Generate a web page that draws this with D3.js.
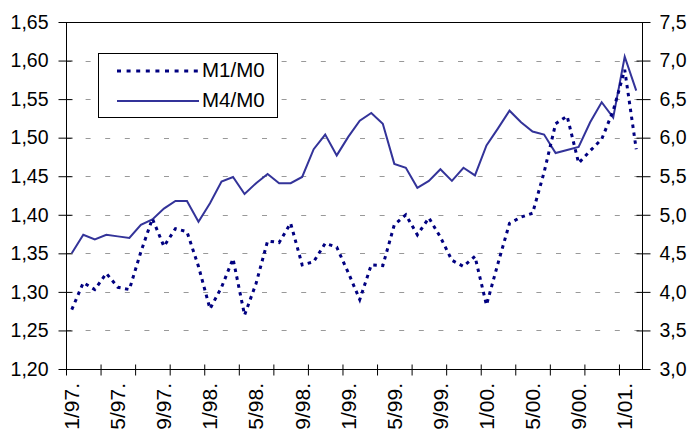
<!DOCTYPE html>
<html>
<head>
<meta charset="utf-8">
<script src="https://cdn.jsdelivr.net/npm/d3@7/dist/d3.min.js"></script>
<style>
html,body{margin:0;padding:0;background:#fff;}
svg{display:block;}
text{font-family:"Liberation Sans",Arial,sans-serif;fill:#000;}
</style>
</head>
<body>
<svg id="chart" width="691" height="430"></svg>
<script>
// ---- data ----
const months = [
  "1/97.","2/97.","3/97.","4/97.","5/97.","6/97.","7/97.","8/97.","9/97.","10/97.","11/97.","12/97.",
  "1/98.","2/98.","3/98.","4/98.","5/98.","6/98.","7/98.","8/98.","9/98.","10/98.","11/98.","12/98.",
  "1/99.","2/99.","3/99.","4/99.","5/99.","6/99.","7/99.","8/99.","9/99.","10/99.","11/99.","12/99.",
  "1/00.","2/00.","3/00.","4/00.","5/00.","6/00.","7/00.","8/00.","9/00.","10/00.","11/00.","12/00.",
  "1/01.","2/01."
];
const m1m0 = [
  1.277,1.312,1.303,1.324,1.306,1.303,1.352,1.395,1.359,1.382,
  1.378,1.333,1.278,1.306,1.343,1.270,1.311,1.366,1.364,1.389,
  1.335,1.339,1.363,1.358,1.325,1.290,1.335,1.334,1.387,1.400,
  1.374,1.396,1.371,1.341,1.333,1.346,1.283,1.337,1.389,1.397,
  1.402,1.455,1.518,1.528,1.467,1.483,1.498,1.535,1.588,1.485
];
const m4m0 = [
  4.50,4.74,4.68,4.74,4.72,4.70,4.87,4.94,5.08,5.18,
  5.18,4.91,5.15,5.43,5.49,5.27,5.41,5.53,5.41,5.41,
  5.49,5.85,6.04,5.77,6.01,6.22,6.32,6.18,5.66,5.61,
  5.35,5.44,5.59,5.44,5.61,5.51,5.90,6.12,6.35,6.20,
  6.08,6.04,5.80,5.84,5.88,6.20,6.46,6.26,7.05,6.61
];
const leftTicks = [1.20,1.25,1.30,1.35,1.40,1.45,1.50,1.55,1.60,1.65];
const rightTicks = [3.0,3.5,4.0,4.5,5.0,5.5,6.0,6.5,7.0,7.5];
const seriesNames = ["M1/M0","M4/M0"];

// ---- layout ----
const L = 66, R = 642, T = 22, B = 369;
const svg = d3.select("#chart");
const n = months.length;

const x = d3.scaleLinear().domain([0, n]).range([L, R]);
const yL = d3.scaleLinear().domain([1.20, 1.65]).range([B, T]);
const yR = d3.scaleLinear().domain([3.0, 7.5]).range([B, T]);
const fmt2 = v => d3.format(".2f")(v).replace(".", ",");
const fmt1 = v => d3.format(".1f")(v).replace(".", ",");

// gridlines
svg.append("g").selectAll("line").data(leftTicks.slice(1, -1)).join("line")
  .attr("x1", L).attr("x2", R)
  .attr("y1", d => Math.round(yL(d)) + 0.5).attr("y2", d => Math.round(yL(d)) + 0.5)
  .attr("stroke", "#999").attr("stroke-width", 1)
  .attr("stroke-dasharray", "5,14.6");

// top border
svg.append("line").attr("x1", L).attr("x2", R)
  .attr("y1", Math.round(T) + 0.5).attr("y2", Math.round(T) + 0.5)
  .attr("stroke", "#000").attr("stroke-width", 1);

// left axis
const gL = svg.append("g").attr("transform", `translate(${L + 0.5},0)`);
gL.call(d3.axisLeft(yL).tickValues(leftTicks).tickFormat(fmt2).tickSize(8).tickPadding(10));
gL.append("g").call(d3.axisLeft(yL).tickValues(leftTicks).tickFormat("").tickSize(-6))
  .select(".domain").remove();
// right axis
const gR = svg.append("g").attr("transform", `translate(${R + 0.5},0)`);
gR.call(d3.axisRight(yR).tickValues(rightTicks).tickFormat(fmt1).tickSize(8).tickPadding(9));
gR.append("g").call(d3.axisRight(yR).tickValues(rightTicks).tickFormat("").tickSize(-6))
  .select(".domain").remove();
[gL, gR].forEach(g => {
  g.selectAll(".domain").attr("d", `M0,${T}V${B}`).attr("stroke", "#000");
  g.selectAll("line").attr("stroke", "#000");
  g.selectAll("text").style("font-size", "19.5px").attr("font-family", null);
});

// bottom axis
const tickIdx = d3.range(0, n, 3);
const gB = svg.append("g").attr("transform", `translate(0,${B + 0.5})`);
gB.call(d3.axisBottom(x).tickValues(tickIdx).tickFormat("").tickSize(6).tickSizeOuter(0));
gB.append("g").call(d3.axisBottom(x).tickValues(tickIdx).tickFormat("").tickSize(-5))
  .select(".domain").remove();
gB.selectAll(".domain").attr("d", `M${L},0H${R + 1}`).attr("stroke", "#000");
gB.selectAll("line").attr("stroke", "#000");

// x labels (every 4th month), rotated
const labelIdx = d3.range(0, n, 4);
svg.append("g").selectAll("text").data(labelIdx).join("text")
  .attr("transform", i => `translate(${x(i + 0.5)},383) rotate(-90)`)
  .attr("dy", "0.35em")
  .attr("text-anchor", "end")
  .style("font-size", "21px")
  .text(i => months[i]);

// lines
const lineL = d3.line().x((d, i) => x(i + 0.5)).y(d => yL(d));
const lineR = d3.line().x((d, i) => x(i + 0.5)).y(d => yR(d));

svg.append("path").datum(m4m0).attr("d", lineR)
  .attr("fill", "none").attr("stroke", "#333399").attr("stroke-width", 2)
  .attr("stroke-linejoin", "miter");
svg.append("path").datum(m1m0).attr("d", lineL)
  .attr("fill", "none").attr("stroke", "#000080").attr("stroke-width", 3)
  .attr("stroke-dasharray", "3.5,4.5");

// legend
const lg = svg.append("g");
lg.append("rect").attr("x", 98.5).attr("y", 53.5).attr("width", 179).attr("height", 64)
  .attr("fill", "#fff").attr("stroke", "#000").attr("stroke-width", 1);
const legY = [71, 101];
lg.append("line").attr("x1", 117).attr("x2", 199).attr("y1", legY[0]).attr("y2", legY[0])
  .attr("stroke", "#000080").attr("stroke-width", 3).attr("stroke-dasharray", "4,5.6");
lg.append("line").attr("x1", 117).attr("x2", 199).attr("y1", legY[1]).attr("y2", legY[1])
  .attr("stroke", "#333399").attr("stroke-width", 2);
lg.selectAll("text.leg").data(seriesNames).join("text").attr("class", "leg")
  .attr("x", 202).attr("y", (d, i) => legY[i] + 5.5)
  .style("font-size", "20.5px")
  .text(d => d);
</script>
</body>
</html>
